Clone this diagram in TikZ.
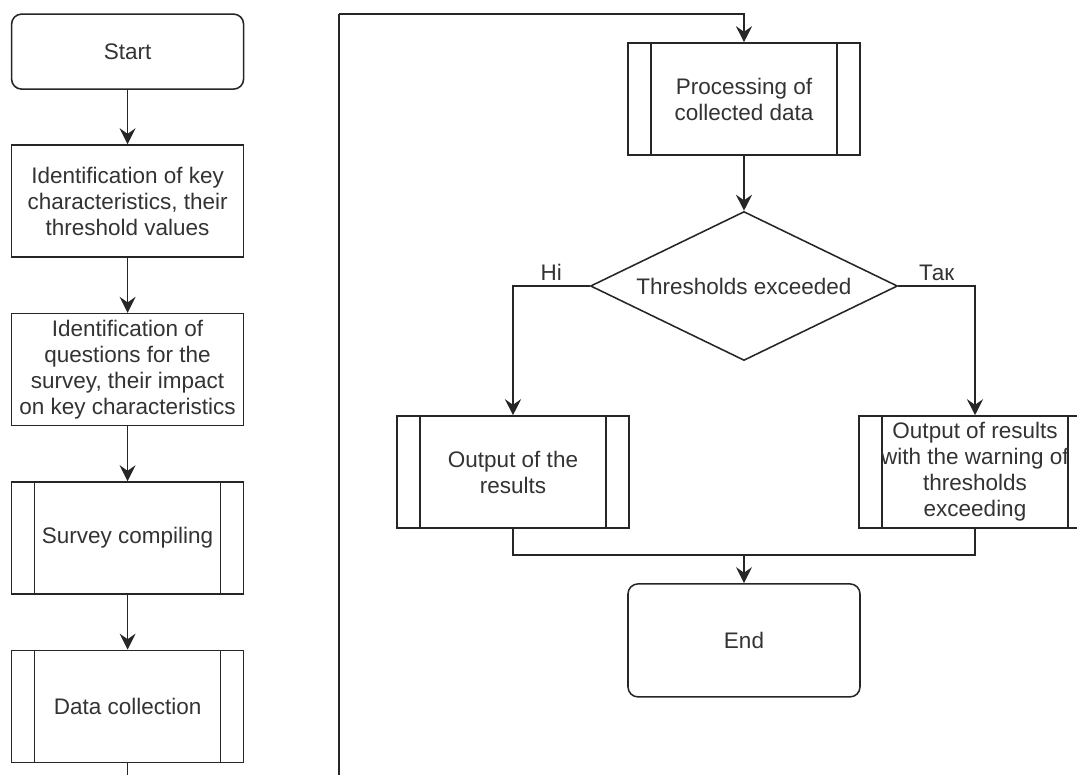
\documentclass[tikz,border=0pt]{standalone}
\usepackage{fontspec}
\setmainfont{Liberation Sans}
\usepackage{tikz}
\usetikzlibrary{calc,shapes.geometric,arrows.meta}

\begin{document}
\begin{tikzpicture}[font=\fontsize{16}{18.5}\selectfont,
    every node/.style={text=black!80, align=center},
    terminal/.style={rectangle, draw=black!85, line width=1.1pt, rounded corners=0.25cm, minimum width=5.8cm, minimum height=1.9cm},
    stepbox/.style={rectangle, draw=black!85, line width=1.1pt, minimum width=5.8cm, minimum height=2.8cm},
    process/.style={stepbox, path picture={
        \draw[black!85, line width=1.1pt] ([xshift=0.575cm]path picture bounding box.north west) -- ([xshift=0.575cm]path picture bounding box.south west);
        \draw[black!85, line width=1.1pt] ([xshift=-0.575cm]path picture bounding box.north east) -- ([xshift=-0.575cm]path picture bounding box.south east);}},
    decision/.style={diamond, draw=black!85, line width=1.1pt, inner sep=0pt, shape aspect=2.06, minimum width=7.675cm, minimum height=3.725cm},
    flow/.style={draw=black!85, line width=1.1pt, -{Stealth[length=4mm, width=4mm, inset=1.4mm]}},
    link/.style={draw=black!85, line width=1.1pt}]
    \clip (0,0) rectangle (26.925,-19.375);
    \fill[white] (0,0) rectangle (26.925,-19.375);
    % Place nodes
    \node [terminal, minimum height=1.875cm] (start) at (3.19,-1.29) {Start};
    \node [stepbox] (keychar) at (3.19,-5.025) {Identification of key\\characteristics, their\\threshold values};
    \node [stepbox] (questions) at (3.19,-9.24) {Identification of\\questions for the\\survey, their impact\\on key characteristics};
    \node [process] (survey) at (3.19,-13.45) {Survey compiling};
    \node [process] (collect) at (3.19,-17.66) {Data collection};
    \node [process] (proc) at (18.6,-2.475) {Processing of\\collected data};
    \node [decision] (thres) at (18.6,-7.15) {Thresholds exceeded};
    \node [process] (resno) at (12.825,-11.8) {Output of the\\results};
    \node [process] (resyes) at (24.375,-11.8) {Output of results\\with the warning of\\thresholds\\exceeding};
    \node [terminal, minimum height=2.825cm] (end) at (18.6,-16.01) {End};
    \coordinate (loopbot) at (8.475,-20.2);
    \coordinate (looptop) at (8.475,-0.35);
    \coordinate (merge) at (18.6,-13.875);
    % Connectors
    \path[flow] (start) -- (keychar);
    \path[flow] (keychar) -- (questions);
    \path[flow] (questions) -- (survey);
    \path[flow] (survey) -- (collect);
    \path[link] (collect.south) |- (loopbot) -- (looptop);
    \path[flow] (looptop) -| (proc.north);
    \path[flow] (proc) -- (thres);
    \path[flow] (thres.west) -| node[pos=0.25, above] {Ні} (resno.north);
    \path[flow] (thres.east) -| node[pos=0.25, above] {Так} (resyes.north);
    \path[link] (resno.south) |- (merge);
    \path[link] (resyes.south) |- (merge);
    \path[flow] (merge) -- (end.north);
\end{tikzpicture}
\end{document}
